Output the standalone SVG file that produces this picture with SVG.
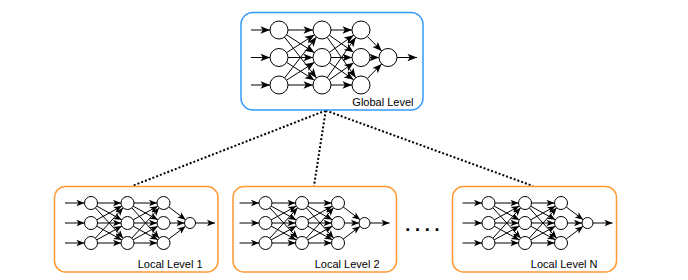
<svg xmlns="http://www.w3.org/2000/svg" xmlns:xlink="http://www.w3.org/1999/xlink" width="688" height="280" viewBox="0 0 688 280">
  <style>
    .box-global { fill: #ffffff; stroke: #3399ff; stroke-width: 1.5; }
    .box-local { fill: #ffffff; stroke: #ff9933; stroke-width: 1.5; }
    .neuron { fill: #ffffff; stroke: #000000; stroke-width: 1; }
    .syn-g { stroke: #000000; stroke-width: 1; fill: none; marker-end: url(#arrowG); }
    .syn-l { stroke: #000000; stroke-width: 1; fill: none; marker-end: url(#arrowL); }
    .label { font-family: "Liberation Sans", Arial, Helvetica, sans-serif; font-size: 11px; fill: #000000; text-anchor: end; }
    .dotted { stroke: #000000; stroke-width: 2; stroke-dasharray: 2 2; fill: none; }
    .ellipsis { font-family: "Liberation Sans", Arial, Helvetica, sans-serif; font-size: 18px; font-weight: bold; letter-spacing: 4.8px; fill: #000000; }
  </style>
  <defs>
    <marker id="arrowG" markerUnits="userSpaceOnUse" markerWidth="11" markerHeight="8" refX="9.5" refY="3.75" orient="auto" overflow="visible">
      <path d="M0,0 L9.5,3.75 L0,7.5 L2.3,3.75 Z" fill="#000000"/>
    </marker>
    <marker id="arrowL" markerUnits="userSpaceOnUse" markerWidth="9" markerHeight="7" refX="8" refY="3.25" orient="auto" overflow="visible">
      <path d="M0,0 L8,3.25 L0,6.5 L2,3.25 Z" fill="#000000"/>
    </marker>

    <!-- small network used in every local level; origin = first layer, middle neuron -->
    <g id="localNet">
      <!-- inputs -->
      <line class="syn-l" x1="-26" y1="-20" x2="-6.5" y2="-20"/>
      <line class="syn-l" x1="-26" y1="0" x2="-6.5" y2="0"/>
      <line class="syn-l" x1="-26" y1="20" x2="-6.5" y2="20"/>
      <!-- layer 1 -> layer 2 -->
      <line class="syn-l" x1="6.5" y1="-20" x2="30" y2="-20"/>
      <line class="syn-l" x1="5.7" y1="-16.88" x2="30.8" y2="-3.12"/>
      <line class="syn-l" x1="4.38" y1="-15.2" x2="32.12" y2="15.2"/>
      <line class="syn-l" x1="5.7" y1="-3.12" x2="30.8" y2="-16.88"/>
      <line class="syn-l" x1="6.5" y1="0" x2="30" y2="0"/>
      <line class="syn-l" x1="5.7" y1="3.12" x2="30.8" y2="16.88"/>
      <line class="syn-l" x1="4.38" y1="15.2" x2="32.12" y2="-15.2"/>
      <line class="syn-l" x1="5.7" y1="16.88" x2="30.8" y2="3.12"/>
      <line class="syn-l" x1="6.5" y1="20" x2="30" y2="20"/>
      <!-- layer 2 -> layer 3 -->
      <line class="syn-l" x1="43" y1="-20" x2="66" y2="-20"/>
      <line class="syn-l" x1="42.18" y1="-16.84" x2="66.82" y2="-3.16"/>
      <line class="syn-l" x1="40.85" y1="-15.17" x2="68.15" y2="15.17"/>
      <line class="syn-l" x1="42.18" y1="-3.16" x2="66.82" y2="-16.84"/>
      <line class="syn-l" x1="43" y1="0" x2="66" y2="0"/>
      <line class="syn-l" x1="42.18" y1="3.16" x2="66.82" y2="16.84"/>
      <line class="syn-l" x1="40.85" y1="15.17" x2="68.15" y2="-15.17"/>
      <line class="syn-l" x1="42.18" y1="16.84" x2="66.82" y2="3.16"/>
      <line class="syn-l" x1="43" y1="20" x2="66" y2="20"/>
      <!-- layer 3 -> output -->
      <line class="syn-l" x1="77.69" y1="-16.08" x2="94.61" y2="-3.31"/>
      <line class="syn-l" x1="79" y1="0" x2="93.5" y2="0"/>
      <line class="syn-l" x1="77.69" y1="16.08" x2="94.61" y2="3.31"/>
      <!-- output -->
      <line class="syn-l" x1="104.5" y1="0" x2="124" y2="0"/>
      <!-- neurons -->
      <circle class="neuron" cx="0" cy="-20" r="6.5"/>
      <circle class="neuron" cx="0" cy="0" r="6.5"/>
      <circle class="neuron" cx="0" cy="20" r="6.5"/>
      <circle class="neuron" cx="36.5" cy="-20" r="6.5"/>
      <circle class="neuron" cx="36.5" cy="0" r="6.5"/>
      <circle class="neuron" cx="36.5" cy="20" r="6.5"/>
      <circle class="neuron" cx="72.5" cy="-20" r="6.5"/>
      <circle class="neuron" cx="72.5" cy="0" r="6.5"/>
      <circle class="neuron" cx="72.5" cy="20" r="6.5"/>
      <circle class="neuron" cx="99" cy="0" r="5.5"/>
    </g>
  </defs>

  <!-- hierarchy links -->
  <g id="connectors">
    <line class="dotted" x1="325.7" y1="110.5" x2="132" y2="186"/>
    <line class="dotted" x1="325.7" y1="110.5" x2="314" y2="186"/>
    <line class="dotted" x1="325.7" y1="110.5" x2="533" y2="186"/>
  </g>

  <!-- global model -->
  <g id="global-level">
    <rect class="box-global" x="241" y="12.5" width="182" height="97.5" rx="12" ry="12"/>
    <!-- inputs -->
    <line class="syn-g" x1="251" y1="30" x2="270" y2="30"/>
    <line class="syn-g" x1="251" y1="57.5" x2="270" y2="57.5"/>
    <line class="syn-g" x1="251" y1="85" x2="270" y2="85"/>
    <!-- layer 1 -> layer 2 -->
    <line class="syn-g" x1="288" y1="30" x2="313" y2="30"/>
    <line class="syn-g" x1="286.58" y1="34.85" x2="314.42" y2="52.65"/>
    <line class="syn-g" x1="284.54" y1="37.09" x2="316.46" y2="77.91"/>
    <line class="syn-g" x1="286.58" y1="52.65" x2="314.42" y2="34.85"/>
    <line class="syn-g" x1="288" y1="57.5" x2="313" y2="57.5"/>
    <line class="syn-g" x1="286.58" y1="62.35" x2="314.42" y2="80.15"/>
    <line class="syn-g" x1="284.54" y1="77.91" x2="316.46" y2="37.09"/>
    <line class="syn-g" x1="286.58" y1="80.15" x2="314.42" y2="62.35"/>
    <line class="syn-g" x1="288" y1="85" x2="313" y2="85"/>
    <!-- layer 2 -> layer 3 -->
    <line class="syn-g" x1="331" y1="30" x2="352" y2="30"/>
    <line class="syn-g" x1="329.36" y1="35.19" x2="353.64" y2="52.31"/>
    <line class="syn-g" x1="327.21" y1="37.34" x2="355.79" y2="77.66"/>
    <line class="syn-g" x1="329.36" y1="52.31" x2="353.64" y2="35.19"/>
    <line class="syn-g" x1="331" y1="57.5" x2="352" y2="57.5"/>
    <line class="syn-g" x1="329.36" y1="62.69" x2="353.64" y2="79.81"/>
    <line class="syn-g" x1="327.21" y1="77.66" x2="355.79" y2="37.34"/>
    <line class="syn-g" x1="329.36" y1="79.81" x2="353.64" y2="62.69"/>
    <line class="syn-g" x1="331" y1="85" x2="352" y2="85"/>
    <!-- layer 3 -> output -->
    <line class="syn-g" x1="367.31" y1="36.42" x2="381.69" y2="51.08"/>
    <line class="syn-g" x1="370" y1="57.5" x2="379" y2="57.5"/>
    <line class="syn-g" x1="367.31" y1="78.58" x2="381.69" y2="63.92"/>
    <!-- output -->
    <line class="syn-g" x1="397" y1="57.5" x2="417" y2="57.5"/>
    <!-- neurons -->
    <circle class="neuron" cx="279" cy="30" r="9"/>
    <circle class="neuron" cx="279" cy="57.5" r="9"/>
    <circle class="neuron" cx="279" cy="85" r="9"/>
    <circle class="neuron" cx="322" cy="30" r="9"/>
    <circle class="neuron" cx="322" cy="57.5" r="9"/>
    <circle class="neuron" cx="322" cy="85" r="9"/>
    <circle class="neuron" cx="361" cy="30" r="9"/>
    <circle class="neuron" cx="361" cy="57.5" r="9"/>
    <circle class="neuron" cx="361" cy="85" r="9"/>
    <circle class="neuron" cx="388" cy="57.5" r="9"/>
    <text class="label" x="413.5" y="105.5">Global Level</text>
  </g>

  <!-- local models -->
  <g id="local-level-1">
    <rect class="box-local" x="54.5" y="186.5" width="163.5" height="85.5" rx="11" ry="11"/>
    <use xlink:href="#localNet" href="#localNet" transform="translate(91,223)"/>
    <text class="label" x="202.5" y="268">Local Level 1</text>
  </g>

  <g id="local-level-2">
    <rect class="box-local" x="233" y="186.5" width="163.5" height="85.5" rx="11" ry="11"/>
    <use xlink:href="#localNet" href="#localNet" transform="translate(265.5,223)"/>
    <text class="label" x="379.5" y="268">Local Level 2</text>
  </g>

  <text class="ellipsis" x="405.2" y="230.8">....</text>

  <g id="local-level-n">
    <rect class="box-local" x="452.5" y="186.5" width="164" height="85.5" rx="11" ry="11"/>
    <use xlink:href="#localNet" href="#localNet" transform="translate(488.5,223)"/>
    <text class="label" x="597.5" y="268">Local Level N</text>
  </g>
</svg>
